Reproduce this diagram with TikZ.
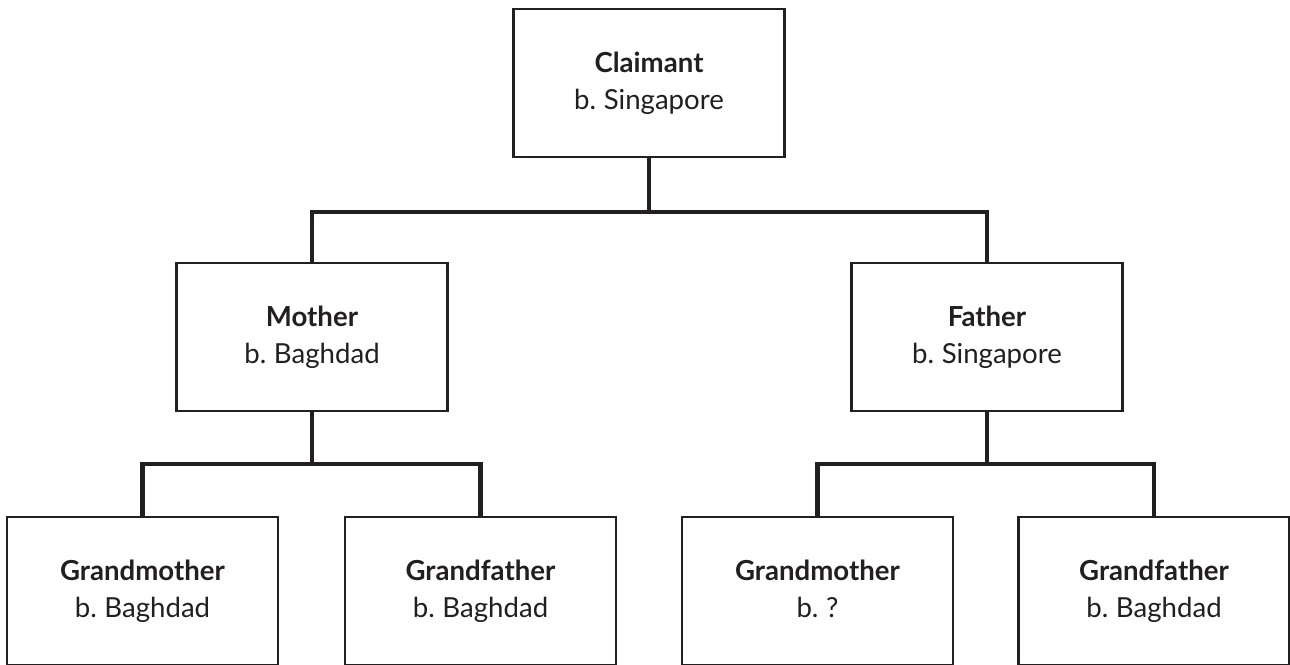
\documentclass[tikz,border=0pt]{standalone}
\usepackage{fontspec}
\setmainfont{Lato}[WordSpace=0.75]
\definecolor{ftInk}{HTML}{231F20}
\usetikzlibrary{calc,positioning}

\begin{document}
\begin{tikzpicture}[x=0.5pt, y=-0.5pt,
  person/.style={draw=ftInk, line width=1.1pt, fill=white, text=ftInk,
    minimum width=135.5pt, minimum height=74pt, align=center,
    font=\fontsize{13.8}{18.5}\selectfont, inner sep=0pt,
    execute at end node=\vphantom{g}},
  link/.style={draw=ftInk, line width=2.4pt, line join=miter}
]
  \useasboundingbox (0,0) rectangle (1290,664);

  % junction points of the brackets
  \coordinate (split) at (649,212);
  \coordinate (msplit) at (312,464);
  \coordinate (fsplit) at (987,464);

  \node[person] (claimant) at (649,83) {\textbf{Claimant}\\b. Singapore};
  \node[person] (mother) at (312,337) {\textbf{Mother}\\b. Baghdad};
  \node[person] (father) at (987,337) {\textbf{Father}\\b. Singapore};
  \node[person] (mgm) at (142.5,591) {\textbf{Grandmother}\\b. Baghdad};
  \node[person] (mgf) at (480.5,591) {\textbf{Grandfather}\\b. Baghdad};
  \node[person] (fgm) at (817.5,591) {\textbf{Grandmother}\\b. ?};
  \node[person] (fgf) at (1154,591) {\textbf{Grandfather}\\b. Baghdad};

  \draw[link] (claimant.south) -- (split);
  \draw[link] (mother.north) -- (mother.north |- split) -- (father.north |- split) -- (father.north);

  \draw[link] (mother.south) -- (msplit);
  \draw[link] (mgm.north) -- (mgm.north |- msplit) -- (mgf.north |- msplit) -- (mgf.north);

  \draw[link] (father.south) -- (fsplit);
  \draw[link] (fgm.north) -- (fgm.north |- fsplit) -- (fgf.north |- fsplit) -- (fgf.north);
\end{tikzpicture}
\end{document}
